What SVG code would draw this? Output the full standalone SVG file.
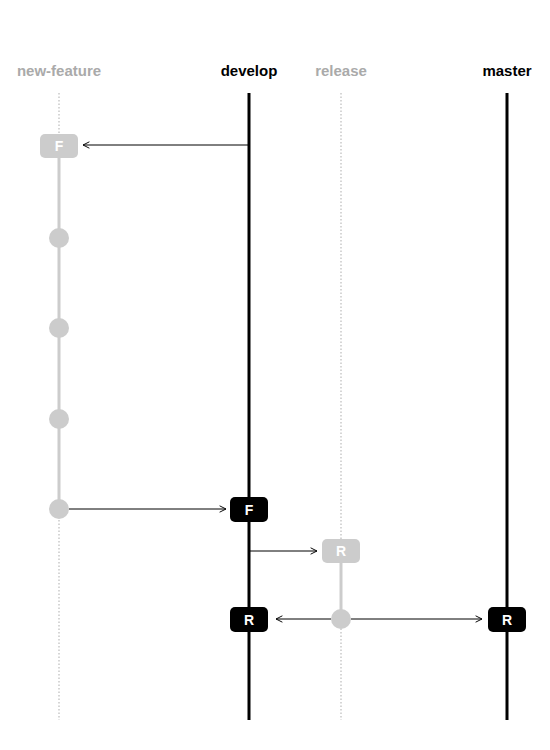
<svg xmlns="http://www.w3.org/2000/svg" width="550" height="750" viewBox="0 0 550 750">
<defs>
<style>
.lbl{font-family:"Liberation Sans",Arial,sans-serif;font-size:15px;font-weight:bold;text-anchor:middle}
.g{fill:#aaaaaa}
.b{fill:#000}
.dot{stroke:#d6d6d6;stroke-width:2;stroke-dasharray:1.5 2;fill:none}
.main{stroke:#000;stroke-width:3;fill:none}
.sub{stroke:#cccccc;stroke-width:3;fill:none}
.conn{stroke:#000;stroke-width:1;fill:none;marker-end:url(#arr)}
.boxg{fill:#cccccc}
.boxb{fill:#000}
.bt{font-family:"Liberation Sans",Arial,sans-serif;font-size:14px;font-weight:bold;fill:#fff;text-anchor:middle}
.c{fill:#cccccc}
</style>
<marker id="arr" viewBox="0 0 10 10" refX="9" refY="5" markerWidth="8" markerHeight="8" markerUnits="userSpaceOnUse" orient="auto">
<path d="M1,1 L9,5 L1,9" fill="none" stroke="#000" stroke-width="1.2"/>
</marker>
</defs>
<g id="branch-new-feature">
<text class="lbl g" x="59" y="76">new-feature</text>
<line class="dot" x1="59" y1="93" x2="59" y2="720"/>
<line class="sub" x1="59" y1="146" x2="59" y2="509"/>
</g>
<g id="branch-develop">
<text class="lbl b" x="249" y="76">develop</text>
<line class="main" x1="249" y1="93" x2="249" y2="720"/>
</g>
<g id="branch-release">
<text class="lbl g" x="341" y="76">release</text>
<line class="dot" x1="341" y1="93" x2="341" y2="720"/>
<line class="sub" x1="341" y1="551" x2="341" y2="619"/>
</g>
<g id="branch-master">
<text class="lbl b" x="507" y="76">master</text>
<line class="main" x1="507" y1="93" x2="507" y2="720"/>
</g>
<g id="connectors">
<line class="conn" x1="249" y1="145" x2="83" y2="145"/>
<line class="conn" x1="69" y1="509" x2="226" y2="509"/>
<line class="conn" x1="250" y1="551" x2="317" y2="551"/>
<line class="conn" x1="331" y1="619" x2="276" y2="619"/>
<line class="conn" x1="351" y1="619" x2="482" y2="619"/>
</g>
<g id="nf-F">
<rect class="boxg" x="40" y="134" width="38" height="24" rx="5"/>
<text class="bt" x="59" y="151">F</text>
</g>
<g id="nf-c1"><circle class="c" cx="59" cy="238" r="10"/></g>
<g id="nf-c2"><circle class="c" cx="59" cy="328" r="10"/></g>
<g id="nf-c3"><circle class="c" cx="59" cy="419" r="10"/></g>
<g id="nf-c4"><circle class="c" cx="59" cy="509" r="10"/></g>
<g id="dev-F">
<rect class="boxb" x="230" y="497" width="38" height="25" rx="5"/>
<text class="bt" x="249" y="514.5">F</text>
</g>
<g id="rel-R">
<rect class="boxg" x="322" y="539" width="38" height="24" rx="5"/>
<text class="bt" x="341" y="556">R</text>
</g>
<g id="rel-c"><circle class="c" cx="341" cy="619" r="10"/></g>
<g id="dev-R">
<rect class="boxb" x="230" y="607" width="38" height="25" rx="5"/>
<text class="bt" x="249" y="624.5">R</text>
</g>
<g id="master-R">
<rect class="boxb" x="488" y="607" width="38" height="25" rx="5"/>
<text class="bt" x="507" y="624.5">R</text>
</g>
</svg>
